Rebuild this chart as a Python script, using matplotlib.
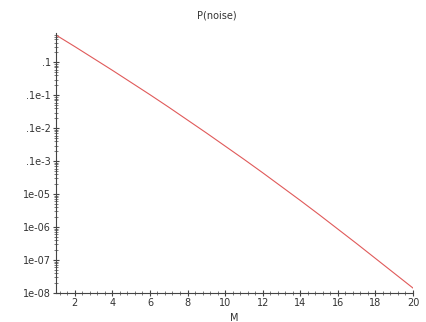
import numpy as np
import matplotlib
matplotlib.use("Agg")
import matplotlib.pyplot as plt
from matplotlib.ticker import MultipleLocator, FixedLocator, FixedFormatter, LogLocator, NullFormatter

# Data: log10 of P(noise) at M = 1..20
M = [1, 2, 3, 4, 5, 6, 7, 8, 9, 10, 11, 12, 13, 14, 15, 16, 17, 18, 19, 20]
log10_p = [-0.17, -0.52, -0.88, -1.24, -1.61, -1.98, -2.36, -2.75, -3.14, -3.54,
           -3.94, -4.35, -4.77, -5.19, -5.62, -6.06, -6.50, -6.95, -7.40, -7.85]
p_noise = [10 ** v for v in log10_p]

ytick_vals = [1e-1, 1e-2, 1e-3, 1e-4, 1e-5, 1e-6, 1e-7, 1e-8]
ytick_labels = [".1", ".1e-1", ".1e-2", ".1e-3", "1e-05", "1e-06", "1e-07", "1e-08"]
xtick_vals = [2, 4, 6, 8, 10, 12, 14, 16, 18, 20]

fig = plt.figure(figsize=(4.26, 3.22), dpi=100)
ax = fig.add_axes([56/426, 1-293/322, (413-56)/426, (293-33)/322])

ax.plot(M, p_noise, color="#e05a5a", lw=0.8)
ax.set_yscale("log")
ax.set_xlim(1, 20)
ax.set_ylim(1e-8, 0.78)

for s in ["top", "right"]:
    ax.spines[s].set_visible(False)
for s in ["left", "bottom"]:
    ax.spines[s].set_color("#444444")
    ax.spines[s].set_linewidth(0.8)

ax.yaxis.set_major_locator(FixedLocator(ytick_vals))
ax.yaxis.set_major_formatter(FixedFormatter(ytick_labels))
ax.yaxis.set_minor_locator(LogLocator(base=10, subs=np.arange(2, 10), numticks=20))
ax.yaxis.set_minor_formatter(NullFormatter())
ax.xaxis.set_major_locator(FixedLocator(xtick_vals))
ax.xaxis.set_minor_locator(MultipleLocator(0.4))

ax.tick_params(which="major", direction="inout", length=5, width=0.8, color="#444444",
               labelsize=7, labelcolor="#333333", pad=1)
ax.tick_params(which="minor", direction="inout", length=2.5, width=0.6, color="#666666")

fig.text(217/426, 1-16/322, "P(noise)", ha="center", va="center", fontsize=7, color="#333333")
fig.text(234/426, 1-318/322, "M", ha="center", va="center", fontsize=7, color="#333333")

fig.savefig("out.png", dpi=100)
